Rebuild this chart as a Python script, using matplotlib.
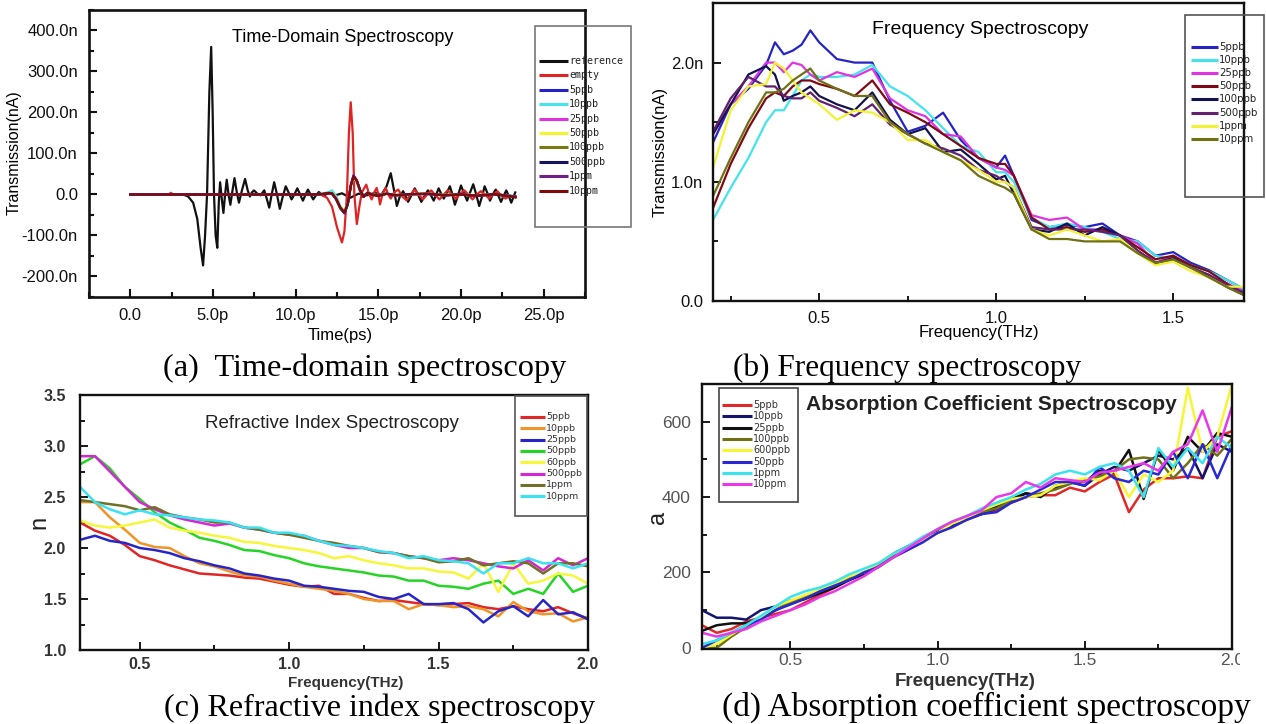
import matplotlib
matplotlib.use('Agg')
import matplotlib.pyplot as plt
from matplotlib.lines import Line2D
from matplotlib.patches import Rectangle
from matplotlib.ticker import MultipleLocator

# ---------------- data: (a) time-domain ----------------
a_xticks = [0, 5, 10, 15, 20, 25]
a_xticklabels = ['0.0', '5.0p', '10.0p', '15.0p', '20.0p', '25.0p']
a_yticks = [-200, -100, 0, 100, 200, 300, 400]
a_yticklabels = ['-200.0n', '-100.0n', '0.0', '100.0n', '200.0n', '300.0n', '400.0n']

ref_t = [0.0, 3.2, 3.5, 3.8, 4.05, 4.25, 4.4, 4.52, 4.64, 4.78, 4.89, 4.98, 5.06, 5.16, 5.26,
         5.35, 5.43, 5.53, 5.63, 5.73, 5.83, 5.94, 6.05, 6.18, 6.3, 6.44, 6.57, 6.75, 6.94,
         7.1, 7.23, 7.35, 7.48, 7.68, 7.88, 8.0, 8.1, 8.25, 8.4, 8.55, 8.7, 8.87, 9.04, 9.22,
         9.4, 9.57, 9.75, 9.92, 10.1, 10.27, 10.44, 10.6, 10.74, 10.9, 11.06, 11.23, 11.4,
         11.7, 12.0, 12.4, 12.8, 13.3, 13.8, 14.3, 14.8, 15.2, 15.5, 15.75, 15.95, 16.12,
         16.3, 16.5, 16.65, 16.8, 17.0, 17.2, 17.4, 17.6, 17.8, 18.0, 18.18, 18.35, 18.5,
         18.65, 18.8, 18.96, 19.15, 19.33, 19.48, 19.63, 19.82, 20.0, 20.18, 20.37, 20.55,
         20.74, 20.92, 21.1, 21.27, 21.43, 21.6, 21.75, 21.92, 22.1, 22.26, 22.42, 22.58,
         22.74, 22.9, 23.04, 23.28]
ref_v = [0, 0, -5, -20, -60, -130, -173, -100, 0, 250, 360, 200, 0, -100, -130,
         -20, 30, -10, -45, 0, 36, 0, -25, 10, 40, 5, -20, 10, 38,
         10, -5, 5, 10, 2, -2, 5, 10, -10, -32, 0, 30, 0, -35, -5,
         20, 5, -12, 0, 15, 0, -15, 0, 12, 0, -12, -2, 6,
         -3, 4, -2, 3, -8, 2, -2, 4, 0, 20, 52, 10, -28,
         -5, 8, -5, -18, -2, 15, 0, -18, -3, 10, -2, -15, 0,
         15, 2, -10, 5, 20, 0, -25, -2, 22, 3, -15, 5,
         25, 0, -28, -5, 20, 3, -15, 0, 12, -3, -18, -3,
         10, -5, -20, 5]

empty_t = [0, 2.3, 2.45, 2.6, 11.5, 11.9, 12.2, 12.5, 12.8, 12.95, 13.1, 13.22, 13.33, 13.45,
           13.55, 13.7, 13.85, 14.0, 14.27, 14.45, 14.6, 14.75, 14.9, 15.0, 15.1, 15.25, 15.45,
           15.6, 15.75, 15.95, 16.2, 16.45, 16.7, 16.95, 17.2, 17.45, 17.7, 17.95, 18.2, 18.45,
           18.7, 18.95, 19.2, 19.45, 19.7, 19.95, 20.2, 20.45, 20.7, 20.95, 21.2, 21.45, 21.7,
           21.95, 22.2, 22.45, 22.7, 22.95, 23.3]
empty_v = [0, 0, 4, 0, 0, -8, -30, -80, -117, -90, 0, 150, 225, 150,
           0, -72, -30, 5, 24, 0, -12, 5, 16, 0, -24, 0, 16,
           0, -10, 5, 12, -5, -14, 0, 12, 0, -12, 0, 10, -2,
           -12, 0, 10, 0, -10, 2, 10, 0, -12, 0, 8, 0, -10,
           0, 8, -3, -10, -2, -8]

samp_t = [0.0, 11.0, 11.6, 12.0, 12.2, 12.45, 12.7, 12.95, 13.15, 13.35, 13.5, 13.7, 13.9,
          14.1, 14.35, 14.6, 15.0, 15.5, 16.0, 17.0, 18.0, 19.0, 20.0, 21.0, 22.0, 23.3]
a_5ppb = [0, 0, 1, 3, 2, -12, -32, -42, -20, 25, 42, 30, 8, -6, 4, 0, -3, 2, -2, 1, 2, -2, 0, -3, 1, -5]
a_10ppb = [0, 0, 2, 6, 10, -4, -28, -40, -22, 22, 40, 32, 10, -4, 5, 1, -2, 3, -1, 0, 2, -1, 1, -2, 0, -4]
a_25ppb = [0, 0, 1, 4, 3, -10, -33, -45, -24, 24, 45, 33, 9, -5, 4, 0, -3, 2, -2, 1, 1, -2, 0, -3, 1, -6]
a_50ppb = [0, 0, 1, 4, 4, -9, -30, -41, -21, 23, 41, 31, 9, -5, 5, 0, -2, 2, -2, 0, 2, -2, 1, -2, 0, -5]
a_100ppb = [0, 0, 1, 3, 3, -11, -31, -43, -23, 23, 43, 32, 10, -5, 4, 1, -3, 2, -1, 1, 2, -1, 0, -3, 1, -5]
a_500ppb = [0, 0, 1, 3, 2, -12, -34, -46, -25, 24, 46, 34, 10, -6, 4, 0, -3, 2, -2, 1, 1, -2, 0, -3, 0, -6]
a_1ppm = [0, 0, 1, 3, 2, -11, -33, -45, -22, 26, 47, 35, 11, -5, 5, 0, -3, 2, -2, 0, 2, -2, 1, -3, 1, -5]
a_10ppm = [0, 0, 1, 4, 3, -10, -32, -44, -23, 24, 44, 33, 10, -5, 4, 0, -3, 2, -2, 1, 2, -2, 0, -3, 1, -6]

a_labels = ['reference', 'empty', '5ppb', '10ppb', '25ppb', '50ppb', '100ppb', '500ppb', '1ppm', '10ppm']
a_colors = ['#111111', '#e02424', '#2222c8', '#44e4e8', '#e030e0', '#f4f430', '#7a7a14',
            '#141460', '#70208a', '#7e0a0a']

# ---------------- data: (b) frequency spectroscopy ----------------
freq_b = [0.2, 0.25, 0.3, 0.35, 0.375, 0.4, 0.425, 0.45, 0.475, 0.5, 0.55, 0.6, 0.65, 0.7, 0.75,
          0.8, 0.85, 0.9, 0.95, 1.0, 1.025, 1.05, 1.1, 1.15, 1.2, 1.25, 1.3, 1.35, 1.4, 1.45,
          1.5, 1.55, 1.6, 1.65, 1.7]
b_5ppb = [1.33, 1.65, 1.78, 1.98, 2.17, 2.07, 2.10, 2.15, 2.27, 2.17, 2.03, 2.0, 2.0, 1.68, 1.42,
          1.47, 1.58, 1.35, 1.2, 1.12, 1.22, 1.05, 0.68, 0.62, 0.64, 0.62, 0.65, 0.55, 0.5, 0.38,
          0.41, 0.32, 0.26, 0.18, 0.1]
b_10ppb = [0.68, 0.95, 1.2, 1.5, 1.6, 1.6, 1.72, 1.85, 1.9, 1.88, 1.88, 1.9, 1.98, 1.8, 1.72,
           1.6, 1.45, 1.3, 1.25, 1.08, 1.08, 1.0, 0.7, 0.62, 0.65, 0.62, 0.58, 0.52, 0.5, 0.38,
           0.35, 0.3, 0.25, 0.18, 0.1]
b_25ppb = [1.4, 1.65, 1.8, 2.0, 2.0, 1.92, 2.0, 1.98, 1.9, 1.85, 1.92, 1.88, 1.95, 1.7, 1.6,
           1.55, 1.4, 1.38, 1.2, 1.12, 1.1, 1.05, 0.72, 0.68, 0.7, 0.6, 0.6, 0.55, 0.48, 0.32,
           0.38, 0.28, 0.2, 0.15, 0.08]
b_50ppb = [0.78, 1.15, 1.45, 1.7, 1.75, 1.72, 1.8, 1.85, 1.85, 1.82, 1.78, 1.72, 1.85, 1.65, 1.58,
           1.5, 1.4, 1.3, 1.2, 1.15, 1.15, 1.05, 0.7, 0.6, 0.62, 0.58, 0.6, 0.55, 0.45, 0.35,
           0.38, 0.3, 0.25, 0.15, 0.05]
b_100ppb = [1.4, 1.65, 1.9, 1.97, 1.9, 1.68, 1.72, 1.75, 1.8, 1.72, 1.65, 1.6, 1.75, 1.52, 1.4,
            1.45, 1.25, 1.27, 1.15, 1.02, 1.05, 0.9, 0.6, 0.58, 0.65, 0.55, 0.62, 0.55, 0.42, 0.32,
            0.36, 0.28, 0.22, 0.12, 0.05]
b_500ppb = [1.42, 1.7, 1.88, 1.8, 1.8, 1.72, 1.7, 1.7, 1.75, 1.68, 1.62, 1.55, 1.65, 1.48, 1.4,
            1.32, 1.28, 1.22, 1.1, 1.05, 1.0, 0.95, 0.62, 0.6, 0.6, 0.6, 0.58, 0.55, 0.42, 0.32,
            0.35, 0.28, 0.22, 0.14, 0.07]
b_1ppm = [1.12, 1.6, 1.8, 1.82, 2.0, 1.95, 1.85, 1.75, 1.7, 1.65, 1.52, 1.6, 1.58, 1.5, 1.35,
          1.35, 1.25, 1.18, 1.1, 1.0, 1.0, 0.95, 0.6, 0.55, 0.6, 0.55, 0.5, 0.52, 0.4, 0.3,
          0.33, 0.25, 0.2, 0.12, 0.12]
b_10ppm = [0.88, 1.2, 1.5, 1.75, 1.75, 1.78, 1.85, 1.9, 1.95, 1.85, 1.78, 1.72, 1.72, 1.5, 1.4,
           1.32, 1.25, 1.18, 1.05, 0.98, 0.95, 0.9, 0.6, 0.52, 0.52, 0.5, 0.5, 0.5, 0.4, 0.32,
           0.35, 0.28, 0.2, 0.12, 0.05]
b_labels = ['5ppb', '10ppb', '25ppb', '50ppb', '100ppb', '500ppb', '1ppm', '10ppm']
b_colors = ['#2424c4', '#44e4ec', '#e034e0', '#7e0a14', '#12124e', '#62206e', '#f2f234', '#707014']
b_yticks = [0, 1, 2]
b_yticklabels = ['0.0', '1.0n', '2.0n']
b_xticks = [0.5, 1.0, 1.5]
b_xticklabels = ['0.5', '1.0', '1.5']

# ---------------- data: (c) refractive index ----------------
freq_c = [0.3, 0.35, 0.4, 0.45, 0.5, 0.55, 0.6, 0.65, 0.7, 0.75, 0.8, 0.85, 0.9, 0.95, 1.0,
          1.05, 1.1, 1.15, 1.2, 1.25, 1.3, 1.35, 1.4, 1.45, 1.5, 1.55, 1.6, 1.65, 1.7, 1.75,
          1.8, 1.85, 1.9, 1.95, 2.0]
c_5ppb = [2.25, 2.17, 2.12, 2.03, 1.92, 1.88, 1.83, 1.79, 1.75, 1.74, 1.73, 1.71, 1.7, 1.67, 1.64,
          1.62, 1.63, 1.55, 1.55, 1.51, 1.48, 1.49, 1.47, 1.45, 1.44, 1.45, 1.46, 1.42, 1.40, 1.43,
          1.40, 1.38, 1.42, 1.36, 1.31]
c_10ppb = [2.45, 2.45, 2.3, 2.18, 2.05, 2.01, 2.0, 1.92, 1.85, 1.82, 1.77, 1.73, 1.72, 1.68, 1.65,
           1.62, 1.6, 1.58, 1.55, 1.5, 1.48, 1.48, 1.40, 1.45, 1.44, 1.42, 1.43, 1.40, 1.33, 1.47,
           1.38, 1.35, 1.36, 1.28, 1.32]
c_25ppb = [2.08, 2.12, 2.07, 2.05, 2.0, 1.98, 1.95, 1.9, 1.87, 1.83, 1.8, 1.75, 1.73, 1.70, 1.68,
           1.63, 1.62, 1.60, 1.58, 1.57, 1.52, 1.50, 1.55, 1.45, 1.45, 1.46, 1.40, 1.27, 1.38, 1.43,
           1.33, 1.49, 1.35, 1.37, 1.30]
c_50ppb = [2.82, 2.9, 2.78, 2.6, 2.48, 2.35, 2.25, 2.18, 2.1, 2.07, 2.03, 1.98, 1.97, 1.93, 1.9,
           1.85, 1.82, 1.8, 1.78, 1.76, 1.73, 1.72, 1.68, 1.68, 1.63, 1.62, 1.60, 1.65, 1.68, 1.55,
           1.60, 1.55, 1.75, 1.57, 1.63]
c_60ppb = [2.27, 2.22, 2.2, 2.22, 2.25, 2.28, 2.2, 2.17, 2.15, 2.12, 2.1, 2.06, 2.05, 2.02, 2.0,
           1.98, 1.95, 1.9, 1.92, 1.88, 1.85, 1.83, 1.8, 1.8, 1.77, 1.76, 1.70, 1.85, 1.57, 1.85,
           1.65, 1.68, 1.75, 1.73, 1.65]
c_500ppb = [2.9, 2.9, 2.75, 2.6, 2.45, 2.38, 2.32, 2.28, 2.25, 2.22, 2.24, 2.2, 2.18, 2.15, 2.13,
            2.12, 2.07, 2.03, 2.0, 2.0, 1.96, 1.95, 1.92, 1.9, 1.88, 1.9, 1.88, 1.85, 1.82, 1.80,
            1.88, 1.78, 1.9, 1.83, 1.9]
c_1ppm = [2.47, 2.45, 2.43, 2.41, 2.37, 2.4, 2.33, 2.3, 2.28, 2.25, 2.25, 2.2, 2.18, 2.15, 2.13,
          2.1, 2.07, 2.05, 2.02, 2.0, 1.96, 1.95, 1.92, 1.9, 1.86, 1.87, 1.9, 1.83, 1.85, 1.87,
          1.85, 1.75, 1.85, 1.85, 1.82]
c_10ppm = [2.6, 2.45, 2.38, 2.33, 2.37, 2.33, 2.32, 2.3, 2.28, 2.27, 2.25, 2.2, 2.2, 2.15, 2.15,
           2.12, 2.07, 2.03, 2.02, 2.0, 1.97, 1.95, 1.9, 1.92, 1.88, 1.87, 1.85, 1.75, 1.85, 1.85,
           1.9, 1.85, 1.85, 1.8, 1.85]
c_labels = ['5ppb', '10ppb', '25ppb', '50ppb', '60ppb', '500ppb', '1ppm', '10ppm']
c_colors = ['#e02626', '#f09426', '#2626c8', '#26d426', '#f6f63a', '#d626d6', '#707026', '#3ae2f2']
c_yticks = [1.0, 1.5, 2.0, 2.5, 3.0, 3.5]
c_yticklabels = ['1.0', '1.5', '2.0', '2.5', '3.0', '3.5']
c_xticks = [0.5, 1.0, 1.5, 2.0]
c_xticklabels = ['0.5', '1.0', '1.5', '2.0']

# ---------------- data: (d) absorption coefficient ----------------
freq_d = [0.2, 0.25, 0.3, 0.35, 0.4, 0.45, 0.5, 0.55, 0.6, 0.65, 0.7, 0.75, 0.8, 0.85, 0.9,
          0.95, 1.0, 1.05, 1.1, 1.15, 1.2, 1.25, 1.3, 1.35, 1.4, 1.45, 1.5, 1.55, 1.6, 1.65,
          1.7, 1.75, 1.8, 1.85, 1.9, 1.95, 2.0]
d_5ppb = [60, 40, 50, 70, 80, 90, 100, 120, 140, 160, 180, 200, 220, 245, 265, 290, 310, 325, 340,
          355, 365, 385, 400, 405, 405, 425, 415, 440, 460, 360, 420, 450, 450, 455, 450, 560, 575]
d_10ppb = [100, 80, 80, 75, 100, 110, 125, 130, 150, 165, 185, 200, 215, 245, 265, 290, 305, 325,
           345, 355, 370, 390, 410, 405, 425, 440, 430, 460, 480, 470, 490, 510, 500, 530, 450,
           540, 520]
d_25ppb = [45, 60, 65, 65, 80, 100, 120, 130, 145, 160, 180, 195, 215, 250, 270, 290, 310, 330,
           345, 360, 375, 395, 410, 400, 430, 440, 440, 470, 465, 525, 395, 525, 470, 560, 520,
           570, 560]
d_100ppb = [0, 0, 30, 55, 80, 100, 120, 135, 150, 165, 185, 200, 220, 245, 265, 290, 305, 330,
            345, 360, 370, 390, 400, 410, 420, 435, 445, 455, 470, 500, 505, 500, 450, 490, 540,
            510, 555]
d_600ppb = [0, 10, 35, 60, 80, 110, 125, 140, 155, 170, 190, 200, 225, 250, 265, 285, 305, 330,
            345, 365, 380, 395, 400, 405, 430, 440, 450, 445, 470, 400, 460, 440, 470, 690, 520,
            560, 700]
d_50ppb = [0, 20, 40, 60, 75, 100, 115, 130, 150, 165, 180, 200, 215, 240, 260, 280, 305, 320,
           340, 355, 360, 385, 400, 420, 440, 440, 430, 480, 450, 440, 470, 460, 520, 450, 540,
           450, 540]
d_1ppm = [10, 20, 40, 60, 85, 110, 135, 150, 160, 175, 195, 210, 225, 250, 270, 295, 315, 335,
          350, 370, 385, 400, 420, 435, 460, 470, 460, 480, 490, 470, 400, 530, 480, 530, 490,
          560, 530]
d_10ppm = [40, 30, 40, 50, 70, 85, 100, 115, 135, 150, 170, 190, 215, 240, 265, 290, 315, 335,
           350, 365, 400, 410, 440, 425, 450, 445, 440, 465, 470, 480, 490, 470, 520, 540, 630,
           520, 640]
d_labels = ['5ppb', '10ppb', '25ppb', '100ppb', '600ppb', '50ppb', '1ppm', '10ppm']
d_colors = ['#e02828', '#14146e', '#111111', '#707014', '#f6f634', '#2828d4', '#3ae4ee', '#e838e8']
d_yticks = [0, 200, 400, 600]
d_yticklabels = ['0', '200', '400', '600']
d_xticks = [0.5, 1.0, 1.5, 2.0]
d_xticklabels = ['0.5', '1.0', '1.5', '2.0']

captions = ['(a)  Time-domain spectroscopy', '(b) Frequency spectroscopy',
            '(c) Refractive index spectroscopy', '(d) Absorption coefficient spectroscopy']

# ---------------- figure ----------------
W, H = 1266, 724
plt.rcParams['font.family'] = ['Liberation Sans', 'DejaVu Sans']
fig = plt.figure(figsize=(W / 100, H / 100), dpi=100)
fig.patch.set_facecolor('white')


def fx(x):
    return x / W


def fy(y):
    return 1 - y / H


def axbox(l, t, r, b):
    return [l / W, 1 - b / H, (r - l) / W, (b - t) / H]


def style_axes(ax, spw, tcol, tsize, tweight, padx, pady, majlen=6, minlen=3.5):
    for s in ax.spines.values():
        s.set_linewidth(spw)
        s.set_color('#111111')
    ax.tick_params(which='both', direction='in', top=False, right=False, width=spw * 0.8,
                   colors='#111111', labelcolor=tcol, labelsize=tsize)
    ax.tick_params(which='major', length=majlen)
    ax.tick_params(which='minor', length=minlen)
    ax.tick_params(axis='x', pad=padx)
    ax.tick_params(axis='y', pad=pady)
    for lab in ax.get_xticklabels() + ax.get_yticklabels():
        lab.set_fontweight(tweight)


def legend_box(box, labels, colors, y0, dy, lx0, lx1, fs, family, lw, ec='#666666', tcol='#222222'):
    l, t, r, b = box
    fig.add_artist(Rectangle((fx(l), fy(b)), (r - l) / W, (b - t) / H, transform=fig.transFigure,
                             fill=False, edgecolor=ec, lw=1.2))
    for i, (lab, c) in enumerate(zip(labels, colors)):
        y = y0 + i * dy
        fig.add_artist(Line2D([fx(lx0), fx(lx1)], [fy(y), fy(y)], transform=fig.transFigure,
                              color=c, lw=lw, solid_capstyle='butt'))
        fig.text(fx(lx1 + 1), fy(y), lab, fontsize=fs, family=family, va='center', ha='left',
                 color=tcol)


# ---- (a)
axa = fig.add_axes(axbox(89, 10, 585, 297))
series_a = [(ref_t, ref_v), (empty_t, empty_v), (samp_t, a_5ppb), (samp_t, a_10ppb),
            (samp_t, a_25ppb), (samp_t, a_50ppb), (samp_t, a_100ppb), (samp_t, a_500ppb),
            (samp_t, a_1ppm), (samp_t, a_10ppm)]
for (t, v), c in zip(series_a, a_colors):
    axa.plot(t, v, color=c, lw=1.6)
axa.set_xlim(-2.5, 27.5)
axa.set_ylim(-250, 450)
axa.set_xticks(a_xticks)
axa.set_xticklabels(a_xticklabels)
axa.set_yticks(a_yticks)
axa.set_yticklabels(a_yticklabels)
axa.xaxis.set_minor_locator(MultipleLocator(2.5))
axa.yaxis.set_minor_locator(MultipleLocator(50))
style_axes(axa, 1.9, '#111111', 12, 'normal', 8, 8)
fig.text(fx(343), fy(38), 'Time-Domain Spectroscopy', fontsize=13, ha='center', va='center')
fig.text(fx(340), fy(335), 'Time(ps)', fontsize=12, ha='center', va='center')
fig.text(fx(14), fy(153), 'Transmission(nA)', fontsize=11.5, ha='center', va='center', rotation=90)
legend_box((535, 26, 631, 227), a_labels, a_colors, 61, 14.4, 539, 568, 7.2,
           ['DejaVu Sans Mono'], 2.2, ec='#777777')

# ---- (b)
axb = fig.add_axes(axbox(713, 3, 1244, 301))
series_b = [b_5ppb, b_10ppb, b_25ppb, b_50ppb, b_100ppb, b_500ppb, b_1ppm, b_10ppm]
for v, c in zip(series_b, b_colors):
    axb.plot(freq_b, v, color=c, lw=1.6)
axb.set_xlim(0.2, 1.7)
axb.set_ylim(0, 2.5)
axb.set_xticks(b_xticks)
axb.set_xticklabels(b_xticklabels)
axb.set_yticks(b_yticks)
axb.set_yticklabels(b_yticklabels)
axb.xaxis.set_minor_locator(MultipleLocator(0.25))
axb.yaxis.set_minor_locator(MultipleLocator(0.5))
style_axes(axb, 1.7, '#111111', 12, 'normal', 7, 7)
fig.text(fx(980), fy(29), 'Frequency Spectroscopy', fontsize=14, ha='center', va='center')
fig.text(fx(979), fy(333), 'Frequency(THz)', fontsize=12, ha='center', va='center')
fig.text(fx(660), fy(152), 'Transmission(nA)', fontsize=12, ha='center', va='center', rotation=90)
legend_box((1185, 15, 1264, 197), b_labels, b_colors, 47, 13.1, 1191, 1218, 7.3,
           ['DejaVu Sans'], 2.2, ec='#555555')

# ---- (c)
axc = fig.add_axes(axbox(80, 395, 588, 650))
series_c = [c_5ppb, c_10ppb, c_25ppb, c_50ppb, c_60ppb, c_500ppb, c_1ppm, c_10ppm]
for v, c in zip(series_c, c_colors):
    axc.plot(freq_c, v, color=c, lw=1.8)
axc.set_xlim(0.3, 2.0)
axc.set_ylim(1.0, 3.5)
axc.set_xticks(c_xticks)
axc.set_xticklabels(c_xticklabels)
axc.set_yticks(c_yticks)
axc.set_yticklabels(c_yticklabels)
axc.xaxis.set_minor_locator(MultipleLocator(0.25))
axc.yaxis.set_minor_locator(MultipleLocator(0.25))
style_axes(axc, 1.7, '#333333', 11.5, 'bold', 5, 10)
fig.text(fx(332), fy(424), 'Refractive Index Spectroscopy', fontsize=13.5, ha='center',
         va='center', color='#222222')
fig.text(fx(346), fy(683), 'Frequency(THz)', fontsize=11, fontweight='bold', ha='center',
         va='center', color='#333333')
fig.text(fx(39), fy(522), 'n', fontsize=17, ha='center', va='center', rotation=90, color='#222222')
legend_box((515, 396, 587, 516), c_labels, c_colors, 417, 11.3, 520, 545, 6.8,
           ['DejaVu Sans'], 2.2, ec='#555555', tcol='#333333')
# the source image of (c) is cut off at its right edge
fig.add_artist(Rectangle((fx(601), fy(690)), 39 / W, 40 / H, transform=fig.transFigure,
                         facecolor='white', edgecolor='none', zorder=10))

# ---- (d)
axd = fig.add_axes(axbox(702, 384, 1232, 649))
series_d = [d_5ppb, d_10ppb, d_25ppb, d_100ppb, d_600ppb, d_50ppb, d_1ppm, d_10ppm]
for v, c in zip(series_d, d_colors):
    axd.plot(freq_d, v, color=c, lw=1.8)
axd.set_xlim(0.2, 2.0)
axd.set_ylim(-3, 700)
axd.set_xticks(d_xticks)
axd.set_xticklabels(d_xticklabels)
axd.set_yticks(d_yticks)
axd.set_yticklabels(d_yticklabels)
axd.xaxis.set_minor_locator(MultipleLocator(0.25))
axd.yaxis.set_minor_locator(MultipleLocator(100))
style_axes(axd, 1.7, '#555555', 12.5, 'normal', 3, 8)
fig.text(fx(991), fy(405), 'Absorption Coefficient Spectroscopy', fontsize=15,
         fontweight='bold', ha='center', va='center', color='#222222')
fig.text(fx(965), fy(682), 'Frequency(THz)', fontsize=13.5, fontweight='bold', ha='center',
         va='center', color='#333333')
fig.text(fx(658), fy(517), 'a', fontsize=17, ha='center', va='center', rotation=90, color='#222222')
legend_box((719, 388, 798, 502), d_labels, d_colors, 405, 11.3, 722, 752, 7.0,
           ['DejaVu Sans'], 2.2, ec='#444444', tcol='#333333')
fig.add_artist(Rectangle((fx(1240), fy(690)), 26 / W, 40 / H, transform=fig.transFigure,
                         facecolor='white', edgecolor='none', zorder=10))

# ---- captions
cap_pos = [(163, 376), (733, 376), (164, 716), (722, 716)]
cap_size = [23.3, 22.5, 23.0, 24.0]
for txt, (x, y), fs in zip(captions, cap_pos, cap_size):
    fig.text(fx(x), fy(y), txt, fontsize=fs, family=['Liberation Serif'], ha='left',
             va='baseline', color='#000000')

fig.savefig('out.png', dpi=100, facecolor='white')
